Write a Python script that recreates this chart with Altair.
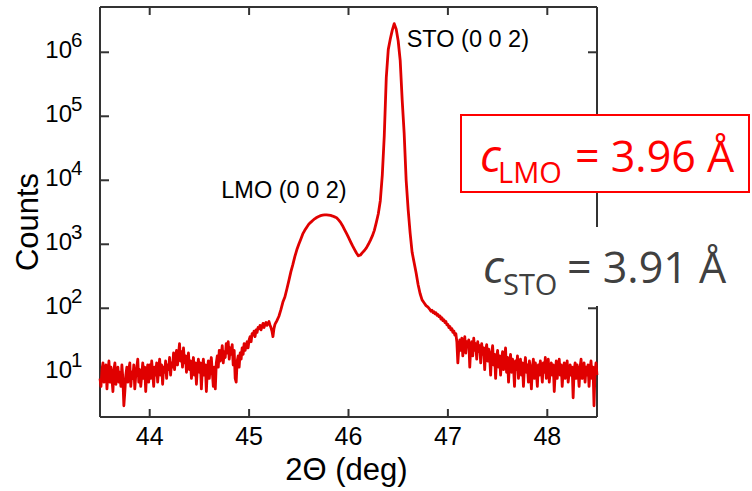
import altair as alt
import numpy as np
import pandas as pd

# ---------------------------------------------------------------
# XRD theta-2theta scan around the (0 0 2) reflections.
# Background stretches were recorded at 0.01 deg steps, the peak
# region at 0.02 deg steps.
# ---------------------------------------------------------------

# 43.50 - 45.28 deg, 0.01 deg steps : background and film shoulder
counts_left = [
    8, 6, 11, 14, 7, 9, 13, 5.5, 10, 15,
    7, 12, 8, 5, 11, 14, 6.5, 9, 12, 7,
    10, 6, 13, 8, 3, 5, 9, 12, 7, 11,
    14, 6, 10, 8, 13, 5.5, 9, 12, 16, 7,
    11, 6, 9, 14, 8, 12, 5, 10, 13, 7,
    13, 8, 15, 10, 6, 12, 9, 14, 7, 11,
    16, 9, 13, 6.5, 12, 10, 15, 8, 13, 11,
    17, 9, 14, 12, 20, 11, 16, 22, 13, 19,
    28, 15, 21, 12, 24, 14, 18, 10, 16, 20,
    11, 15, 8, 13, 17, 9, 14, 6.5, 12, 16,
    10, 14, 5.5, 12, 16, 9, 13, 5, 11, 15,
    8, 13, 17, 10, 6, 12, 5.5, 14, 18, 12,
    22, 15, 19, 26, 14, 21, 17, 28, 20, 30,
    16, 24, 19, 27, 13, 22, 8, 7, 15, 18,
    12, 20, 16, 24, 19, 28, 22, 26, 30, 24,
    32, 36, 30, 40, 38, 44, 36, 46, 42, 50,
    48, 54, 46, 52, 58, 50, 56, 60, 54, 58,
    62, 55, 50, 44, 36, 48, 56, 60, 64,
]
# 45.30 - 46.28 deg, 0.02 deg steps : LMO (0 0 2) film peak and valley
counts_lmo = [
    75, 95, 125, 150, 200, 270, 370, 480, 640, 820,
    1000, 1200, 1450, 1650, 1850, 2050, 2200, 2350, 2500, 2620,
    2720, 2800, 2850, 2880, 2880, 2860, 2820, 2760, 2680, 2600,
    2400, 2200, 1950, 1700, 1480, 1280, 1100, 950, 830, 730,
    660, 680, 740, 800, 880, 1000, 1150, 1350, 1650, 2200,
]
# 46.30 - 46.80 deg, 0.02 deg steps : STO (0 0 2) substrate peak
counts_sto = [
    3000, 4800, 12000, 50000, 400000, 1100000, 1600000, 2200000, 2800000,
    2300000, 1500000, 750000, 180000, 54000, 10000, 3500, 1500, 750, 520,
    360, 235, 170, 135, 122, 110, 104,
]
# 46.82 - 48.50 deg, 0.01 deg steps : substrate tail and background
counts_right = [
    95, 90, 93, 86, 88, 82, 85, 78, 80, 74, 76, 68, 71, 64, 66, 60, 62, 55,
    56, 50, 52, 46, 48, 42, 44, 38, 40, 30,
    14, 24, 32, 22, 34, 18, 28, 36, 20, 30,
    25, 32, 12, 26, 30, 18, 34, 22, 28, 16,
    30, 21, 26, 14, 28, 19, 24, 11, 22, 27,
    15, 23, 18, 9, 20, 26, 13, 19, 8, 17,
    22, 12, 18, 9, 16, 21, 11, 15, 24, 10,
    17, 7, 14, 19, 10, 16, 12, 6, 15, 11,
    18, 8, 13, 16, 9, 14, 6, 12, 17, 10,
    13, 7, 15, 11, 5.5, 12, 16, 8, 14, 10,
    6, 13, 9, 15, 11, 7, 14, 10, 17, 8,
    12, 16, 7, 11, 14, 9, 13, 5, 10, 15,
    8, 12, 16, 9, 13, 6, 11, 14, 8, 12,
    15, 7, 10, 13, 9, 12, 4, 11, 14, 8,
    13, 10, 6, 12, 16, 8, 11, 14, 7, 12,
    9, 13, 6, 11, 15, 8, 12, 3, 10, 14, 9,
]

# (first angle, step, counts) for each stretch of the scan
segments = [
    (43.50, 0.01, counts_left),
    (45.30, 0.02, counts_lmo),
    (46.30, 0.02, counts_sto),
    (46.82, 0.01, counts_right),
]
two_theta, counts = [], []
for start, step, values in segments:
    two_theta += list(np.round(start + step * np.arange(len(values)), 2))
    counts += values
scan = pd.DataFrame({"two_theta": two_theta, "counts": counts})

x_ticks = [44, 45, 46, 47, 48]
y_decades = [1e1, 1e2, 1e3, 1e4, 1e5, 1e6]
y_exponents = ["1", "2", "3", "4", "5", "6"]

peak_labels = ["STO (0 0 2)", "LMO (0 0 2)"]
peak_label_x = [46.585, 44.72]
peak_label_y = [1.22e6, 5230]

# ---------------------------------------------------------------
W, H = 497, 410
SANS = "Liberation Sans"
NOTE = "Open Sans"
FRAME = "#333333"
RED = "#ff0000"
GRAY = "#404040"

xscale = alt.Scale(domain=[43.5, 48.5], nice=False, zero=False)
yscale = alt.Scale(type="log", domain=[2, 5.1e6], nice=False)

ticks_x_df = pd.DataFrame({"t": x_ticks})
decade_df = pd.DataFrame({"v": y_decades, "e": y_exponents})
peak_df = pd.DataFrame({"x": peak_label_x, "y": peak_label_y, "label": peak_labels})
one = alt.Data(values=[{}])


def frame_rule(**enc):
    return alt.Chart(one).mark_rule(color=FRAME, strokeWidth=2).encode(**enc)


frame = [
    frame_rule(x=alt.value(0), y=alt.value(0), y2=alt.value(H)),
    frame_rule(x=alt.value(W), y=alt.value(0), y2=alt.value(H)),
    frame_rule(x=alt.value(0), x2=alt.value(W), y=alt.value(0)),
    frame_rule(x=alt.value(0), x2=alt.value(W), y=alt.value(H)),
]

# inward-pointing ticks on all four sides
y_tick_enc = alt.Y("v:Q", scale=yscale, axis=None)
x_tick_enc = alt.X("t:Q", scale=xscale, axis=None)
ticks = [
    alt.Chart(decade_df).mark_rule(color=FRAME, strokeWidth=2).encode(
        y=y_tick_enc, x=alt.value(0), x2=alt.value(9)),
    alt.Chart(decade_df).mark_rule(color=FRAME, strokeWidth=2).encode(
        y=y_tick_enc, x=alt.value(W - 9), x2=alt.value(W)),
    alt.Chart(ticks_x_df).mark_rule(color=FRAME, strokeWidth=2).encode(
        x=x_tick_enc, y=alt.value(H - 8), y2=alt.value(H)),
    alt.Chart(ticks_x_df).mark_rule(color=FRAME, strokeWidth=2).encode(
        x=x_tick_enc, y=alt.value(0), y2=alt.value(8)),
]

curve = alt.Chart(scan).mark_line(color="#e00000", strokeWidth=2.8,
                                  strokeJoin="round").encode(
    x=alt.X("two_theta:Q", scale=xscale, axis=None),
    y=alt.Y("counts:Q", scale=yscale, axis=None),
)

# tick labels
x_labels = alt.Chart(ticks_x_df).mark_text(
    align="center", baseline="alphabetic", font=SANS, fontSize=25,
    color="black").encode(x=x_tick_enc, y=alt.value(438),
                          text=alt.Text("t:Q", format="d"))
y_base = alt.Chart(decade_df).mark_text(
    align="right", baseline="alphabetic", font=SANS, fontSize=24,
    color="black").encode(x=alt.value(-28), y=y_tick_enc,
                          yOffset=alt.value(5.7), text=alt.value("10"))
y_exp = alt.Chart(decade_df).mark_text(
    align="left", baseline="alphabetic", font=SANS, fontSize=20.5,
    color="black").encode(x=alt.value(-29), y=y_tick_enc,
                          yOffset=alt.value(-5.4), text="e:N")

y_title = alt.Chart(one).mark_text(
    text="Counts", angle=270, align="center", baseline="alphabetic",
    font=SANS, fontSize=31, color="black").encode(x=alt.value(-62), y=alt.value(215))
x_title = alt.Chart(one).mark_text(
    text="2\u0398 (deg)", align="center", baseline="alphabetic",
    font=SANS, fontSize=31, color="black").encode(x=alt.value(246.5), y=alt.value(473))

peaks = alt.Chart(peak_df).mark_text(
    align="left", baseline="alphabetic", font=SANS, fontSize=23.5, color="black").encode(
    x=alt.X("x:Q", scale=xscale, axis=None),
    y=alt.Y("y:Q", scale=yscale, axis=None),
    text="label:N")

# lattice-parameter notes on the right
box = alt.Chart(one).mark_rect(fill="white", stroke=RED, strokeWidth=2).encode(
    x=alt.value(361), x2=alt.value(649), y=alt.value(108), y2=alt.value(185))
blank = alt.Chart(one).mark_rect(fill="white").encode(
    x=alt.value(370), x2=alt.value(652), y=alt.value(220), y2=alt.value(299))


def note(text, x, y, size, color, style="normal"):
    return alt.Chart(one).mark_text(
        text=text, align="left", baseline="alphabetic", font=NOTE, fontSize=size,
        fontStyle=style, color=color).encode(x=alt.value(x), y=alt.value(y))


notes = [
    note("c", 380, 164.7, 46, RED, "italic"),
    note("LMO", 398, 176.3, 29, RED),
    note("= 3.96 \u00c5", 475, 164.7, 43, RED),
    note("c", 383, 275.7, 46, GRAY, "italic"),
    note("STO", 403, 288, 29, GRAY),
    note("= 3.91 \u00c5", 467, 275.7, 43, GRAY),
]

chart = alt.layer(
    *frame, *ticks, curve, x_labels, y_base, y_exp, y_title, x_title, peaks,
    box, blank, *notes
).properties(
    width=W, height=H,
    padding={"left": 100, "top": 7, "right": 155, "bottom": 74},
    autosize=alt.AutoSizeParams(type="none"),
    background="white",
).configure_view(stroke=None)

chart.save("out.html", embed_options={"renderer": "svg", "actions": False})
